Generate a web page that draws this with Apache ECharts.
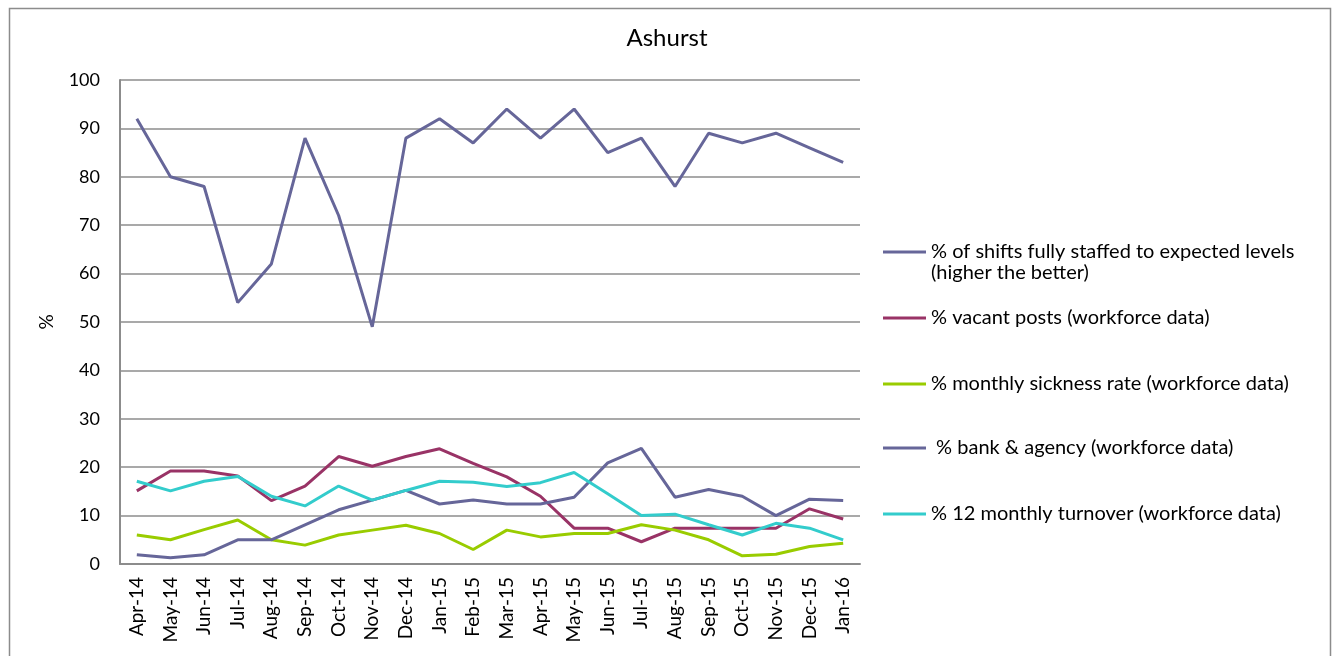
<!DOCTYPE html>
<html>
<head>
<meta charset="utf-8">
<script src="https://cdn.jsdelivr.net/npm/echarts@6/dist/echarts.min.js"></script>
<style>
html,body{margin:0;padding:0;background:#fff;}
#chart{width:1334px;height:656px;}
</style>
</head>
<body>
<div id="chart"></div>
<script>
const categories = ['Apr-14','May-14','Jun-14','Jul-14','Aug-14','Sep-14','Oct-14','Nov-14','Dec-14','Jan-15','Feb-15','Mar-15','Apr-15','May-15','Jun-15','Jul-15','Aug-15','Sep-15','Oct-15','Nov-15','Dec-15','Jan-16'];
const shiftsStaffed = [92,80,78,54,62,88,72,49,88,92,87,94,88,94,85,88,78,89,87,89,86,83];
const vacantPosts   = [15.1,19.2,19.2,18.2,13.1,16.1,22.2,20.2,22.2,23.8,20.8,18.0,14.0,7.4,7.4,4.6,7.4,7.4,7.4,7.4,11.4,9.3];
const sicknessRate  = [6.0,5.0,7.1,9.1,5.0,3.9,6.0,7.0,8.0,6.3,3.0,7.0,5.6,6.3,6.3,8.1,7.0,5.0,1.7,2.0,3.6,4.3];
const bankAgency    = [1.9,1.3,1.9,5.0,5.0,8.1,11.2,13.2,15.2,12.4,13.2,12.4,12.4,13.8,20.9,23.9,13.8,15.4,14.0,10.0,13.4,13.1];
const turnover      = [17.1,15.1,17.1,18.1,14.0,12.0,16.1,13.2,15.2,17.1,16.9,16.0,16.8,18.9,14.5,10.0,10.3,8.1,6.0,8.4,7.4,5.0];
const yTicks = [0,10,20,30,40,50,60,70,80,90,100];

const names = [
  '% of shifts fully staffed to expected levels',
  '% vacant posts (workforce data)',
  '% monthly sickness rate (workforce data)',
  ' % bank & agency (workforce data)',
  '% 12 monthly turnover (workforce data)'
];
const colors = ['#666699','#993366','#99CC00','#666699','#33CCCC'];
const values = [shiftsStaffed, vacantPosts, sicknessRate, bankAgency, turnover];
const legendCenters = [252, 318, 384, 448, 514];
const FONT = 'Lato';

const chart = echarts.init(document.getElementById('chart'));
const series = names.map((n, i) => ({
  name: n,
  type: 'line',
  data: values[i],
  symbol: 'none',
  lineStyle: { color: colors[i], width: 3 },
  itemStyle: { color: colors[i] },
  animation: false
}));
const legends = names.map((n, i) => ({
  data: [{ name: n, icon: 'rect' }],
  left: 883,
  top: legendCenters[i] - 10,
  orient: 'vertical',
  padding: 0,
  itemWidth: 43,
  itemHeight: 3,
  itemGap: 0,
  selectedMode: false,
  textStyle: { fontFamily: FONT, fontSize: 20, color: '#000', lineHeight: 20 }
}));

chart.setOption({
  animation: false,
  textStyle: { fontFamily: FONT },
  title: {
    text: 'Ashurst',
    left: 'center',
    top: 21,
    textStyle: { fontFamily: FONT, fontSize: 24, fontWeight: 'normal', color: '#000' }
  },
  legend: legends,
  grid: { left: 120, right: 474, top: 80, bottom: 92, containLabel: false },
  xAxis: {
    type: 'category',
    data: categories,
    boundaryGap: true,
    axisLine: { lineStyle: { color: '#8c8c8c', width: 2 } },
    axisTick: { show: false },
    axisLabel: { rotate: 90, interval: 0, fontFamily: FONT, fontSize: 19, color: '#000', margin: 13 }
  },
  yAxis: {
    type: 'value',
    min: yTicks[0],
    max: yTicks[yTicks.length - 1],
    interval: 10,
    name: '%',
    nameLocation: 'middle',
    nameGap: 64,
    nameRotate: 90,
    nameTextStyle: { fontFamily: FONT, fontSize: 19, color: '#000' },
    axisLine: { show: true, lineStyle: { color: '#8c8c8c', width: 2 } },
    axisTick: { show: false },
    splitLine: { lineStyle: { color: '#8c8c8c', width: 1.5 } },
    axisLabel: { fontFamily: FONT, fontSize: 18, color: '#000', margin: 20 }
  },
  graphic: [
    { type: 'rect', left: 7, top: 6, shape: { width: 1321, height: 660 }, style: { fill: 'none', stroke: '#8c8c8c', lineWidth: 1.5 }, silent: true },
    { type: 'text', left: 931, top: 263, style: { text: '(higher the better)', font: '20px ' + FONT, fill: '#000' }, silent: true }
  ],
  series: series
});
</script>
</body>
</html>
